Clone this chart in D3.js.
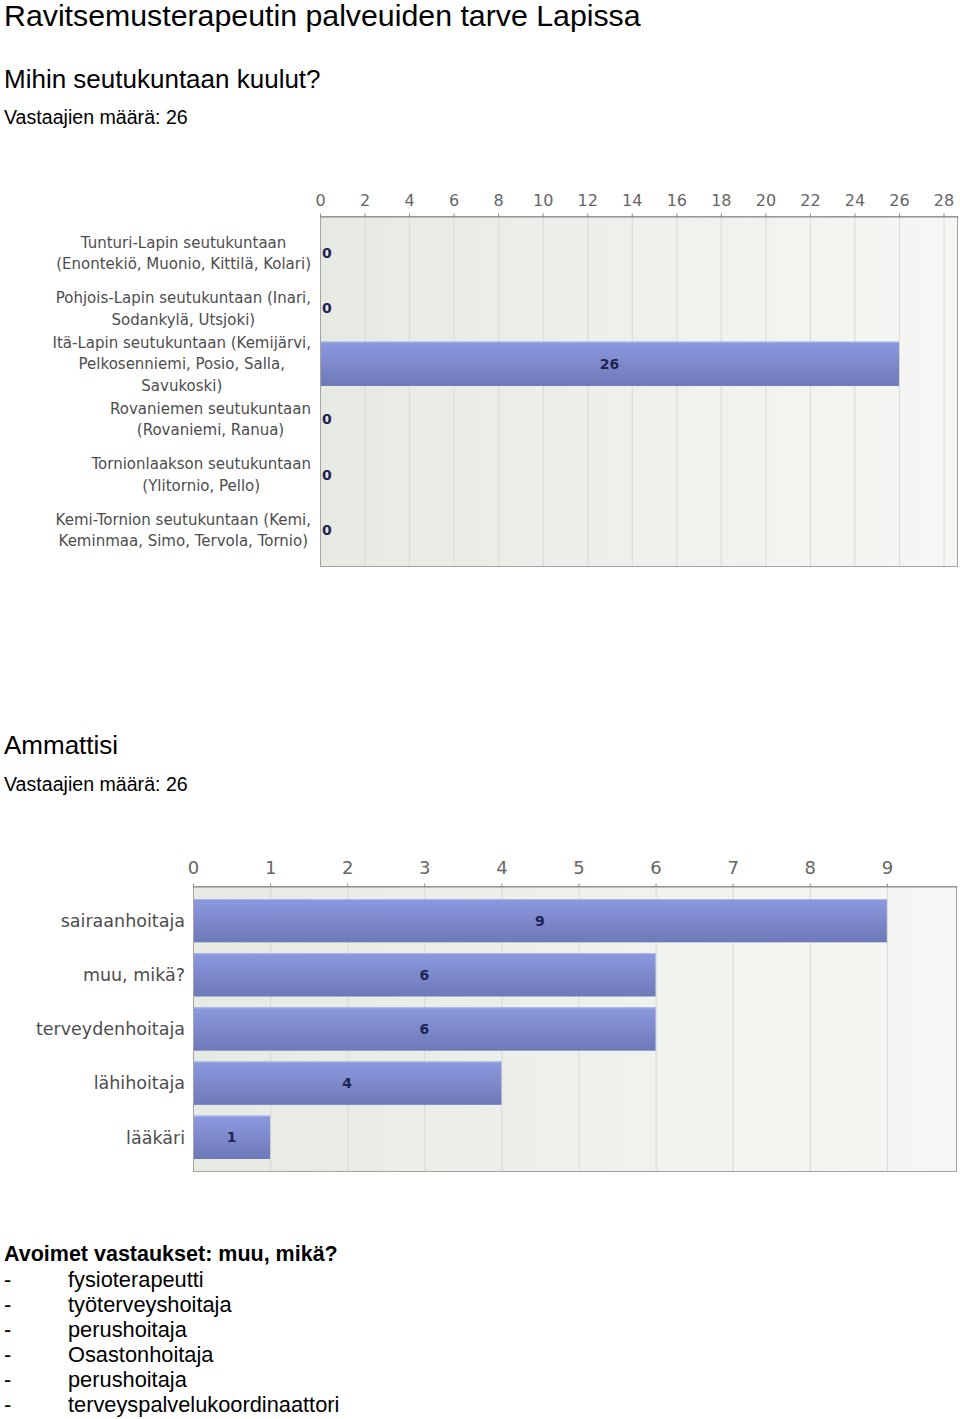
<!DOCTYPE html>
<html>
<head>
<meta charset="utf-8">
<script src="https://cdn.jsdelivr.net/npm/d3@7/dist/d3.min.js"></script>
<style>
  body { margin: 0; background: #fff; }
</style>
</head>
<body>
<div id="page"></div>
<script>
// TEXTS AND DATA
const pageTitle = 'Ravitsemusterapeutin palveuiden tarve Lapissa';

const regionTitle = 'Mihin seutukuntaan kuulut?';
const regionCount = 'Vastaajien määrä: 26';
const regionLabels = [
  ['Tunturi-Lapin seutukuntaan', '(Enontekiö, Muonio, Kittilä, Kolari)'],
  ['Pohjois-Lapin seutukuntaan (Inari,', 'Sodankylä, Utsjoki)'],
  ['Itä-Lapin seutukuntaan (Kemijärvi,', 'Pelkosenniemi, Posio, Salla,', 'Savukoski)'],
  ['Rovaniemen seutukuntaan', '(Rovaniemi, Ranua)'],
  ['Tornionlaakson seutukuntaan', '(Ylitornio, Pello)'],
  ['Kemi-Tornion seutukuntaan (Kemi,', 'Keminmaa, Simo, Tervola, Tornio)'],
];
const regionValues = [0, 0, 26, 0, 0, 0];
const regionTicks = [0, 2, 4, 6, 8, 10, 12, 14, 16, 18, 20, 22, 24, 26, 28];

const jobTitle = 'Ammattisi';
const jobCount = 'Vastaajien määrä: 26';
const jobLabels = ['sairaanhoitaja', 'muu, mikä?', 'terveydenhoitaja', 'lähihoitaja', 'lääkäri'];
const jobValues = [9, 6, 6, 4, 1];
const jobTicks = [0, 1, 2, 3, 4, 5, 6, 7, 8, 9];

const openTitle = 'Avoimet vastaukset: muu, mikä?';
const openAnswers = [
  'fysioterapeutti',
  'työterveyshoitaja',
  'perushoitaja',
  'Osastonhoitaja',
  'perushoitaja',
  'terveyspalvelukoordinaattori',
];

const W = 960;
const H = 1419;
const textFont = '"Liberation Sans", Arial, sans-serif';
const chartFont = '"DejaVu Sans", Verdana, sans-serif';

const svg = d3.select('#page')
  .append('svg')
  .attr('width', W)
  .attr('height', H)
  .style('display', 'block');

// gradients for plot background and bars
const defs = svg.append('defs');
const bg = defs.append('linearGradient').attr('id', 'plotBg')
  .attr('x1', 0).attr('x2', 1).attr('y1', 0).attr('y2', 0);
bg.append('stop').attr('offset', '0%').attr('stop-color', '#e6eae2');
bg.append('stop').attr('offset', '100%').attr('stop-color', '#f6f7f4');

const barGrad = defs.append('linearGradient').attr('id', 'barFill')
  .attr('x1', 0).attr('x2', 0).attr('y1', 0).attr('y2', 1);
barGrad.append('stop').attr('offset', '0%').attr('stop-color', '#8c99df');
barGrad.append('stop').attr('offset', '100%').attr('stop-color', '#6e79b8');

function addText(x, y, str, size, weight) {
  return svg.append('text')
    .attr('x', x)
    .attr('y', y)
    .style('font-family', textFont)
    .style('font-size', `${size}px`)
    .style('font-weight', weight || 'normal')
    .style('fill', '#000')
    .text(str);
}

// headings
addText(4, 26, pageTitle, 30.3);
addText(4, 88, regionTitle, 26);
addText(4, 124, regionCount, 19.6);
addText(4, 754, jobTitle, 26);
addText(4, 791, jobCount, 19.6);

// horizontal bar chart
function makeBarChart(opt) {
  const g = svg.append('g');

  const x = d3.scaleLinear()
    .domain([0, opt.xMax])
    .range([opt.left, opt.right]);

  const y = d3.scaleBand()
    .domain(d3.range(opt.values.length))
    .range([opt.top, opt.bottom])
    .paddingInner(0.2)
    .paddingOuter(opt.outer);

  // plot background
  g.append('rect')
    .attr('x', opt.left)
    .attr('y', opt.top)
    .attr('width', opt.right - opt.left)
    .attr('height', opt.bottom - opt.top)
    .style('fill', 'url(#plotBg)');

  // grid lines
  g.selectAll('.grid')
    .data(opt.ticks.filter((t) => t > 0))
    .enter()
    .append('line')
    .attr('class', 'grid')
    .attr('x1', (d) => x(d) + 0.5)
    .attr('x2', (d) => x(d) + 0.5)
    .attr('y1', opt.top)
    .attr('y2', opt.bottom)
    .style('stroke', '#d6dad3')
    .style('stroke-width', 1);

  // bars
  g.selectAll('.bar')
    .data(opt.values)
    .enter()
    .append('rect')
    .attr('class', 'bar')
    .attr('x', x(0))
    .attr('y', (d, i) => y(i))
    .attr('width', (d) => x(d) - x(0))
    .attr('height', y.bandwidth())
    .style('fill', 'url(#barFill)');

  g.selectAll('.bar-top')
    .data(opt.values.map((v, i) => ({ v, i })).filter((d) => d.v > 0))
    .enter()
    .append('line')
    .attr('class', 'bar-top')
    .attr('x1', x(0))
    .attr('x2', (d) => x(d.v))
    .attr('y1', (d) => y(d.i) + 0.5)
    .attr('y2', (d) => y(d.i) + 0.5)
    .style('stroke', '#aab6ee')
    .style('stroke-width', 1);

  // frame
  g.append('rect')
    .attr('x', opt.left + 0.5)
    .attr('y', opt.top + 0.5)
    .attr('width', opt.right - opt.left - 1)
    .attr('height', opt.bottom - opt.top - 1)
    .style('fill', 'none')
    .style('stroke', '#a3a3a3');

  // top axis
  const axis = d3.axisTop(x)
    .tickValues(opt.ticks)
    .tickSize(3)
    .tickSizeOuter(0)
    .tickPadding(opt.tickPad)
    .tickFormat(d3.format('d'));

  const ax = g.append('g')
    .attr('transform', `translate(0,${opt.top + 0.5})`)
    .call(axis);
  ax.select('.domain').style('stroke', '#8a8a8a');
  ax.selectAll('.tick line').style('stroke', '#8a8a8a');
  ax.selectAll('.tick text')
    .style('font-family', chartFont)
    .style('font-size', `${opt.tickSize}px`)
    .style('fill', '#666');

  // value labels
  g.selectAll('.val')
    .data(opt.values)
    .enter()
    .append('text')
    .attr('class', 'val')
    .attr('x', (d) => (d === 0 ? x(0) + 2 : (x(0) + x(d)) / 2))
    .attr('y', (d, i) => y(i) + y.bandwidth() / 2)
    .attr('dy', '0.36em')
    .style('text-anchor', (d) => (d === 0 ? 'start' : 'middle'))
    .style('font-family', chartFont)
    .style('font-size', '14px')
    .style('font-weight', 'bold')
    .style('fill', '#1e2452')
    .text((d) => d);

  // category labels, each block right-aligned, lines centred in the block
  opt.labels.forEach((lines, i) => {
    const cy = y(i) + y.bandwidth() / 2;
    const block = g.append('g');
    const texts = lines.map((line, k) => block.append('text')
      .attr('y', cy + (k - (lines.length - 1) / 2) * opt.lineH)
      .attr('dy', '0.36em')
      .style('text-anchor', 'middle')
      .style('font-family', chartFont)
      .style('font-size', `${opt.labelSize}px`)
      .style('fill', '#4d4d4d')
      .text(line));
    const maxW = d3.max(texts, (t) => t.node().getComputedTextLength());
    texts.forEach((t) => t.attr('x', opt.labelRight - maxW / 2));
  });
}

makeBarChart({
  labels: regionLabels,
  values: regionValues,
  ticks: regionTicks,
  xMax: 28.65,
  left: 320,
  right: 958,
  top: 216,
  bottom: 567,
  outer: 0.27,
  labelRight: 311,
  labelSize: 15,
  lineH: 21.5,
  tickSize: 16,
  tickPad: 8,
});

makeBarChart({
  labels: jobLabels.map((d) => [d]),
  values: jobValues,
  ticks: jobTicks,
  xMax: 9.91,
  left: 193,
  right: 957,
  top: 886,
  bottom: 1172,
  outer: 0.24,
  labelRight: 185,
  labelSize: 17.5,
  lineH: 20,
  tickSize: 18,
  tickPad: 10,
});

// open answers
addText(4, 1261, openTitle, 21.5, 'bold');
openAnswers.forEach((a, i) => {
  addText(4, 1287 + i * 25, '-', 21.8);
  addText(68, 1287 + i * 25, a, 21.8);
});
</script>
</body>
</html>
